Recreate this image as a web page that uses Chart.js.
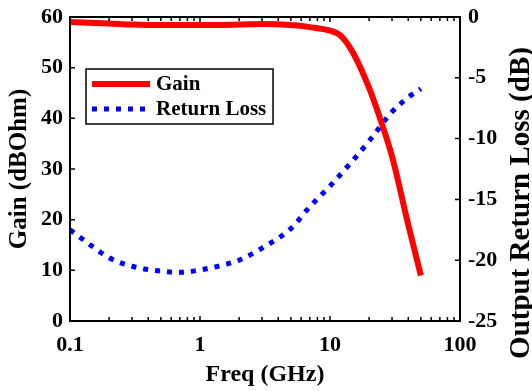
<!DOCTYPE html>
<html lang="en">
<head>
    <meta charset="UTF-8" />
    <title>Gain and Output Return Loss</title>
    <script src="https://cdn.jsdelivr.net/npm/chart.js"></script>
    <style>
        html, body { margin: 0; padding: 0; background: #fff; }
        canvas { display: block; }
    </style>
</head>
<body>
    <canvas id="gainChart" width="532" height="391"></canvas>

    <script>
        // frequency sweep (GHz) and measured curves
        const gainFreq = [0.1, 0.2, 0.3, 0.5, 1, 2, 3, 5, 7, 10, 12, 15, 20, 25, 30, 40, 50];
        const gainDb   = [59.0, 58.7, 58.5, 58.4, 58.4, 58.5, 58.6, 58.4, 58.0, 57.3, 56.4, 53.0, 46.0, 39.0, 32.5, 19.0, 9.0];

        const rlFreq = [0.1, 0.15, 0.2, 0.3, 0.5, 0.7, 1, 1.5, 2, 3, 5, 7, 10, 15, 20, 30, 40, 50];
        const rlDb   = [-17.5, -18.9, -19.8, -20.5, -20.9, -21.0, -20.8, -20.4, -20.0, -19.0, -17.4, -15.6, -13.9, -11.8, -10.2, -7.8, -6.6, -5.9];

        const xTicks = [0.1, 1, 10, 100];
        const xTickLabels = ['0.1', '1', '10', '100'];
        const xMinorTicks = [];
        [0.1, 1, 10].forEach(d => { for (let k = 2; k <= 9; k++) xMinorTicks.push(d * k); });

        const serif = '"Liberation Serif", "Times New Roman", serif';
        const tickFont = { family: serif, size: 22, weight: 'bold' };

        const pairs = (xs, ys) => xs.map((x, i) => ({ x: x, y: ys[i] }));

        // fixed axis sizes, no extra room for overhanging labels
        const fixSize = (w, h) => s => {
            if (w) s.width = w;
            if (h) s.height = h;
            s.paddingTop = s.paddingBottom = s.paddingLeft = s.paddingRight = 0;
        };

        // box around the plot with inward ticks, MATLAB style
        const framePlugin = {
            id: 'frame',
            afterDatasetsDraw(chart) {
                const { ctx, chartArea: a, scales } = chart;
                ctx.save();
                ctx.strokeStyle = '#000';
                ctx.lineWidth = 1.5;
                ctx.beginPath();
                const tick = (x1, y1, x2, y2) => { ctx.moveTo(x1, y1); ctx.lineTo(x2, y2); };
                xTicks.concat(xMinorTicks).forEach(v => {
                    const px = scales.x.getPixelForValue(v);
                    const len = xTicks.includes(v) ? 5 : 4;
                    tick(px, a.bottom, px, a.bottom - len);
                    tick(px, a.top, px, a.top + len);
                });
                scales.y.ticks.forEach(t => {
                    const py = scales.y.getPixelForValue(t.value);
                    tick(a.left, py, a.left + 5, py);
                });
                scales.yR.ticks.forEach(t => {
                    const py = scales.yR.getPixelForValue(t.value);
                    tick(a.right, py, a.right - 5, py);
                });
                ctx.stroke();
                ctx.lineWidth = 2;
                ctx.strokeRect(a.left, a.top, a.right - a.left, a.bottom - a.top);
                ctx.restore();
            }
        };

        // legend box inside the plot, upper left
        const boxLegend = {
            id: 'boxLegend',
            afterDraw(chart) {
                const { ctx, chartArea: a } = chart;
                const bx = a.left + 16, by = a.top + 52, bw = 187, bh = 55;
                ctx.save();
                ctx.fillStyle = '#fff';
                ctx.fillRect(bx, by, bw, bh);
                ctx.strokeStyle = '#000';
                ctx.lineWidth = 1.5;
                ctx.strokeRect(bx, by, bw, bh);
                ctx.font = 'bold 21px ' + serif;
                ctx.textBaseline = 'middle';
                chart.data.datasets.forEach((ds, i) => {
                    const y = by + 15 + i * 25;
                    ctx.beginPath();
                    ctx.strokeStyle = ds.borderColor;
                    ctx.lineWidth = ds.borderWidth;
                    ctx.setLineDash(ds.borderDash || []);
                    ctx.moveTo(bx + 6, y);
                    ctx.lineTo(bx + 64, y);
                    ctx.stroke();
                    ctx.setLineDash([]);
                    ctx.fillStyle = '#000';
                    ctx.fillText(ds.label, bx + 70, y + 1);
                });
                ctx.restore();
            }
        };

        // right axis title reads bottom-to-top
        const rightTitle = {
            id: 'rightTitle',
            afterDraw(chart) {
                const { ctx } = chart;
                ctx.save();
                ctx.translate(529, 203);
                ctx.rotate(-Math.PI / 2);
                ctx.font = 'bold 29px ' + serif;
                ctx.fillStyle = '#000';
                ctx.textAlign = 'center';
                ctx.textBaseline = 'alphabetic';
                ctx.fillText('Output Return Loss (dB)', 0, 0);
                ctx.restore();
            }
        };

        new Chart(document.getElementById('gainChart'), {
            type: 'line',
            data: {
                datasets: [
                    {
                        label: 'Gain',
                        data: pairs(gainFreq, gainDb),
                        borderColor: 'rgb(255, 0, 0)',
                        borderWidth: 6,
                        pointRadius: 0,
                        cubicInterpolationMode: 'monotone',
                        yAxisID: 'y'
                    },
                    {
                        label: 'Return Loss',
                        data: pairs(rlFreq, rlDb),
                        borderColor: 'rgb(0, 0, 255)',
                        borderWidth: 5,
                        borderDash: [5, 7],
                        pointRadius: 0,
                        cubicInterpolationMode: 'monotone',
                        yAxisID: 'yR'
                    }
                ]
            },
            options: {
                responsive: false,
                animation: false,
                devicePixelRatio: 1,
                layout: { padding: { top: 17, left: 0, right: 0, bottom: 0 } },
                plugins: {
                    legend: { display: false },
                    tooltip: { enabled: false }
                },
                scales: {
                    x: {
                        type: 'logarithmic',
                        position: 'bottom',
                        min: 0.1,
                        max: 100,
                        grid: { display: false, drawTicks: false },
                        border: { display: false },
                        afterBuildTicks: s => { s.ticks = xTicks.map(v => ({ value: v })); },
                        afterFit: fixSize(0, 70),
                        ticks: {
                            font: tickFont,
                            color: '#000',
                            padding: 11,
                            autoSkip: false,
                            maxRotation: 0,
                            callback: v => {
                                const i = xTicks.indexOf(v);
                                return i >= 0 ? xTickLabels[i] : '';
                            }
                        },
                        title: {
                            display: true,
                            text: 'Freq (GHz)',
                            color: '#000',
                            font: { family: serif, size: 24, weight: 'bold' },
                            padding: { top: 0, bottom: 2 }
                        }
                    },
                    y: {
                        position: 'left',
                        min: 0,
                        max: 60,
                        grid: { display: false, drawTicks: false },
                        border: { display: false },
                        afterFit: fixSize(70, 0),
                        ticks: { stepSize: 10, font: tickFont, color: '#000', padding: 7 },
                        title: {
                            display: true,
                            text: 'Gain (dBOhm)',
                            color: '#000',
                            font: { family: serif, size: 25, weight: 'bold' },
                            padding: { top: 5, bottom: 0 }
                        }
                    },
                    yR: {
                        position: 'right',
                        min: -25,
                        max: 0,
                        grid: { display: false, drawTicks: false },
                        border: { display: false },
                        afterFit: fixSize(72, 0),
                        ticks: { stepSize: 5, font: tickFont, color: '#000', padding: 8 }
                    }
                }
            },
            plugins: [framePlugin, boxLegend, rightTitle]
        });
    </script>
</body>
</html>
